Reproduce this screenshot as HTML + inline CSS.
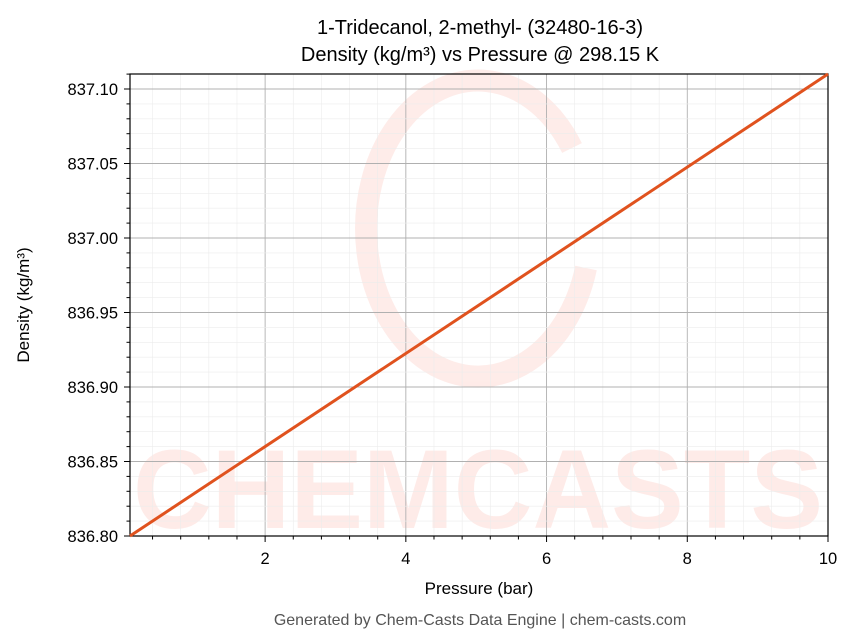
<!DOCTYPE html>
<html><head><meta charset="utf-8"><style>
body{margin:0;background:#fff;}
svg{display:block;font-family:"Liberation Sans","DejaVu Sans",sans-serif;}
</style></head><body>
<svg width="856" height="644" viewBox="0 0 856 644" xmlns="http://www.w3.org/2000/svg">
<rect width="856" height="644" fill="#fff"/>
<!-- watermark -->
<g opacity="0.35">
<path d="M572,148 A112,148 0 1 0 586,268" fill="none" stroke="#fdc8c0" stroke-width="22"/>
<text x="478" y="528" text-anchor="middle" font-size="112" font-weight="bold" fill="#fdc8c0" textLength="690" lengthAdjust="spacingAndGlyphs">CHEMCASTS</text>
</g>
<g id="grid"></g>
<g id="ticks"></g>
<rect x="130" y="74" width="698" height="462" fill="none" stroke="#000" stroke-width="1.2"/>
<line x1="130" y1="536" x2="828" y2="74" stroke="#e0521e" stroke-width="3"/>
<text x="480" y="34" text-anchor="middle" font-size="20">1-Tridecanol, 2-methyl- (32480-16-3)</text>
<text x="480" y="61" text-anchor="middle" font-size="20">Density (kg/m³) vs Pressure @ 298.15 K</text>
<text x="479" y="594" text-anchor="middle" font-size="17">Pressure (bar)</text>
<text x="29" y="305" text-anchor="middle" font-size="17" transform="rotate(-90 29 305)">Density (kg/m³)</text>
<text x="480" y="625" text-anchor="middle" font-size="16" fill="#555">Generated by Chem-Casts Data Engine | chem-casts.com</text>
</svg>
<script>
const ns="http://www.w3.org/2000/svg";
const g=document.getElementById('grid'),t=document.getElementById('ticks');
function el(p,tag,a,txt){const e=document.createElementNS(ns,tag);for(const k in a)e.setAttribute(k,a[k]);if(txt)e.textContent=txt;p.appendChild(e);}
const px=p=>124.4+70.36*p, py=v=>536-(v-836.80)/0.05*74.5;
for(let i=1;i<=25;i++){const p=i*0.4;const x=px(p);if(x<130||x>828)continue;
 const major=Math.abs(p/2-Math.round(p/2))<1e-6;
 el(g,'line',{x1:x,x2:x,y1:74,y2:536,stroke:major?'#b0b0b0':'#ececec','stroke-width':major?0.9:0.6});
 el(t,'line',{x1:x,x2:x,y1:536,y2:major?542:539.5,stroke:'#000','stroke-width':1});
 if(major)el(t,'text',{x:x,y:564,'text-anchor':'middle','font-size':16.5},String(Math.round(p)));}
for(let i=0;i<=31;i++){const v=836.80+i*0.01;const y=py(v);if(y<74)continue;
 const major=i%5==0;
 el(g,'line',{x1:130,x2:828,y1:y,y2:y,stroke:major?'#b0b0b0':'#ececec','stroke-width':major?0.9:0.6});
 el(t,'line',{x1:130,x2:major?124:126.5,y1:y,y2:y,stroke:'#000','stroke-width':1});
 if(major)el(t,'text',{x:118,y:y+6,'text-anchor':'end','font-size':16.5},v.toFixed(2));}
</script>
</body></html>
